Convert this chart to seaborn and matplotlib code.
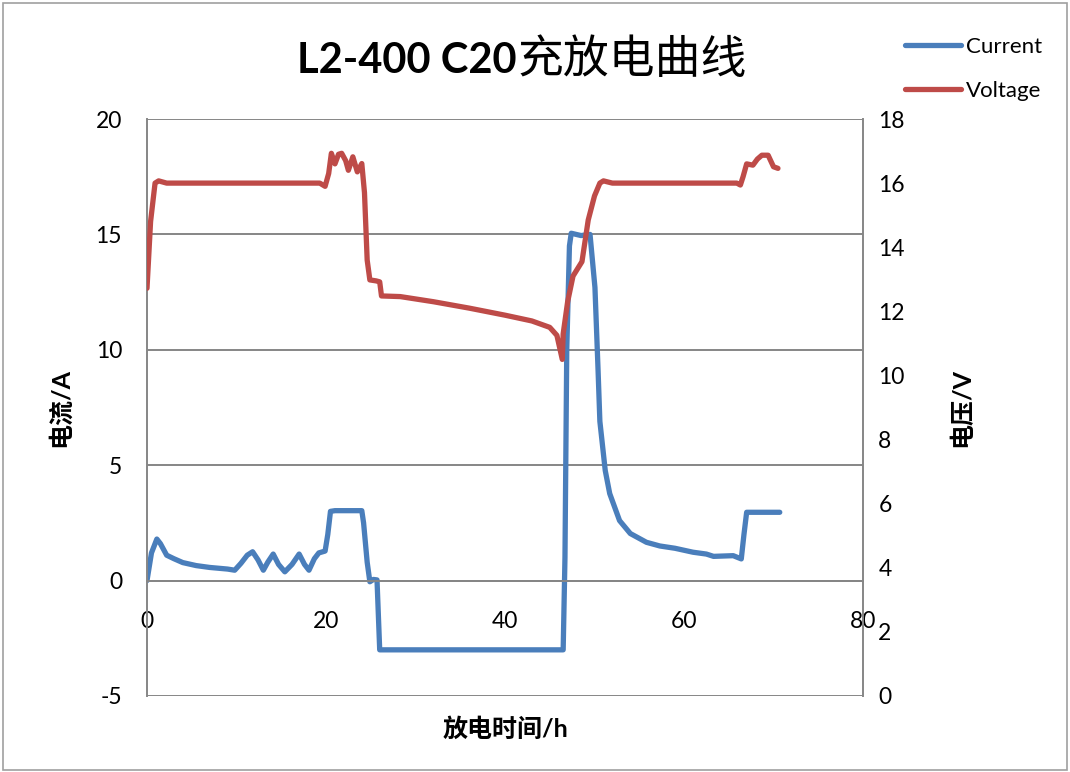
import numpy as np
import pandas as pd
import matplotlib.pyplot as plt
import seaborn as sns
from matplotlib.patches import Rectangle

# data
time_current = [0, 0.5, 1.1, 1.5, 2.2, 3, 4, 5.5, 7, 9, 9.8, 10.5, 11.2, 11.8, 12.4, 13,
                13.5, 14.1, 14.7, 15.4, 16.2, 17, 17.6, 18.1, 18.7, 19.2, 19.9, 20.2, 20.5,
                21, 24, 24.2, 24.6, 24.9, 25.3, 25.7, 26.0, 46.5, 46.7, 46.9, 47.2, 47.4,
                48.5, 49.5, 50.05, 50.4, 50.6, 51.2, 51.7, 52.8, 54, 55.8, 57.3, 59, 61,
                62.5, 63.3, 65.5, 66.4, 66.7, 67.0, 70.7]
current = [0, 1.2, 1.8, 1.6, 1.1, 0.95, 0.78, 0.65, 0.57, 0.5, 0.45, 0.75, 1.1, 1.25, 0.9, 0.45,
           0.8, 1.15, 0.7, 0.38, 0.7, 1.15, 0.7, 0.45, 0.95, 1.2, 1.28, 2.0, 3.0,
           3.03, 3.03, 2.5, 0.8, -0.05, 0.05, 0.03, -3.0, -3.0, 1.0, 10.0, 14.5, 15.05,
           14.95, 15.0, 12.7, 9.1, 6.9, 4.77, 3.77, 2.6, 2.04, 1.66, 1.5, 1.4, 1.23,
           1.15, 1.05, 1.08, 0.94, 2.0, 2.96, 2.96]

time_voltage = [0, 0.4, 0.9, 1.3, 2.2, 19.3, 19.9, 20.3, 20.6, 21.0, 21.4, 21.75, 22.2, 22.5,
                23.0, 23.5, 24.0, 24.3, 24.6, 24.9, 25.6, 26.0, 26.2, 28.3, 32, 36, 40, 43,
                45, 45.8, 46.4, 46.5, 47.0, 47.6, 48.6, 49.3, 50, 50.6, 51, 52, 65.9, 66.3,
                66.6, 67.0, 67.7, 68.2, 68.7, 69.4, 70.0, 70.5]
voltage = [12.72, 14.8, 16.0, 16.07, 16.0, 16.0, 15.9, 16.3, 16.93, 16.6, 16.9, 16.93, 16.7, 16.4,
           16.82, 16.35, 16.61, 15.7, 13.6, 12.98, 12.95, 12.92, 12.48, 12.46, 12.3, 12.1, 11.88, 11.7,
           11.5, 11.25, 10.5, 11.3, 12.3, 13.1, 13.55, 14.85, 15.6, 16.0, 16.07, 16.0, 16.0, 15.94,
           16.2, 16.6, 16.56, 16.75, 16.87, 16.87, 16.51, 16.46]

left_ticks = [-5, 0, 5, 10, 15, 20]
right_ticks = [0, 2, 4, 6, 8, 10, 12, 14, 16, 18]
x_ticks = [0, 20, 40, 60, 80]

blue = '#4A7EBB'
red = '#BE4B48'
grid_gray = '#868686'

sns.set_style('white')
plt.rcParams['font.family'] = ['Lato', 'Noto Sans CJK SC', 'DejaVu Sans']
plt.rcParams['axes.unicode_minus'] = False
for k in ['text.color', 'axes.labelcolor', 'xtick.color', 'ytick.color']:
    plt.rcParams[k] = 'black'

fig = plt.figure(figsize=(10.7, 7.72), dpi=100)
ax = fig.add_axes([147 / 1070, 76 / 772, 716 / 1070, 577 / 772])
ax2 = ax.twinx()

sns.lineplot(x=time_current, y=current, ax=ax, color=blue, lw=3.8, sort=False,
             estimator=None, legend=False)
sns.lineplot(x=time_voltage, y=voltage, ax=ax2, color=red, lw=3.8, sort=False,
             estimator=None, legend=False)

# left axis
ax.set_xlim(0, 80)
ax.set_ylim(-5, 20)
ax.set_yticks(left_ticks)
ax.set_xticks(x_ticks)
ax.grid(axis='y', color=grid_gray, lw=1.4)
ax.grid(axis='x', visible=False)
ax.set_axisbelow(True)
for s in ['top', 'right']:
    ax.spines[s].set_visible(False)
ax.spines['left'].set_color(grid_gray)
ax.spines['left'].set_linewidth(1.4)
ax.spines['bottom'].set_position(('data', 0))
ax.spines['bottom'].set_color(grid_gray)
ax.spines['bottom'].set_linewidth(1.4)
ax.tick_params(axis='y', length=0, pad=18, labelsize=16.5)
ax.tick_params(axis='x', length=0, pad=22, labelsize=16.5)
ax.set_ylabel('电流/A', fontsize=18, fontweight='bold')
ax.yaxis.set_label_coords(-0.105, 0.5)
ax.set_xlabel('放电时间/h', fontsize=18, fontweight='bold')
ax.xaxis.set_label_coords(0.5, -0.036)

# right axis
ax2.set_ylim(0, 18)
ax2.set_yticks(right_ticks)
for s in ['top', 'left', 'bottom']:
    ax2.spines[s].set_visible(False)
ax2.spines['right'].set_color(grid_gray)
ax2.spines['right'].set_linewidth(1.4)
ax2.tick_params(axis='y', length=0, pad=11, labelsize=16.5)
ax2.set_ylabel('电压/V', fontsize=18, fontweight='bold')
ax2.yaxis.set_label_coords(1.1215, 0.5)

# title: bold latin part, regular CJK part
t1 = fig.text(297 / 1070, 1 - 73 / 772, 'L2-400 C20', ha='left', va='baseline',
              fontsize=30, fontweight='bold')
fig.canvas.draw()
x_end = t1.get_window_extent().x1
fig.text(x_end / 1070 + 0.001, 1 - 73 / 772, '充放电曲线', ha='left', va='baseline',
         fontsize=33, family=['Noto Sans CJK SC', 'DejaVu Sans'])

# legend
handles = [plt.Line2D([], [], color=blue, lw=3.8), plt.Line2D([], [], color=red, lw=3.8)]
fig.legend(handles, ['Current', 'Voltage'], loc='upper left',
           bbox_to_anchor=(905 / 1070, 1 - 37 / 772), frameon=False, fontsize=16,
           handlelength=2.5, handletextpad=0.25, labelspacing=1.08, borderpad=0,
           borderaxespad=0)

# chart area border
fig.patches.append(Rectangle((0.003, 0.003), 0.994, 0.993, transform=fig.transFigure,
                             fill=False, edgecolor='#A0A0A0', lw=1.2))

fig.savefig('out.png', dpi=100)
